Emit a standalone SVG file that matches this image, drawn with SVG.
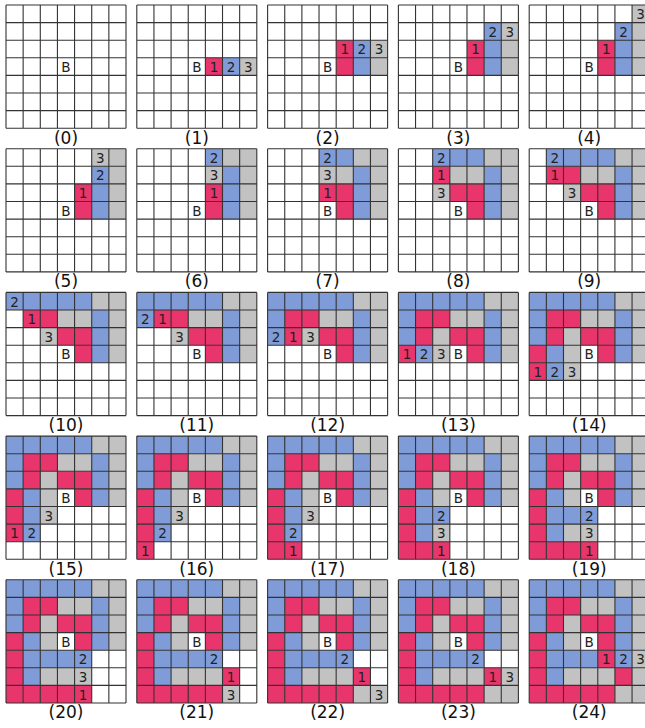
<svg xmlns="http://www.w3.org/2000/svg" xmlns:xlink="http://www.w3.org/1999/xlink" width="645" height="728" viewBox="0 0 645 728">
<style>
.r{fill:#e8356b}
.u{fill:#7f9cd8}
.g{fill:#c2c2c2}
.gl{fill:none;stroke:#333;stroke-width:1.1;vector-effect:non-scaling-stroke}
.t{font-family:"DejaVu Sans","Liberation Sans",Arial,sans-serif;font-size:13.5px;fill:#222;text-anchor:middle}
.lbl{font-family:"DejaVu Sans","Liberation Sans",Arial,sans-serif;font-size:17px;fill:#111;text-anchor:middle}
</style>
<defs>
<path id="grid" class="gl" d="M0 0V7M1 0V7M2 0V7M3 0V7M4 0V7M5 0V7M6 0V7M7 0V7M0 0H7M0 1H7M0 2H7M0 3H7M0 4H7M0 5H7M0 6H7M0 7H7"/>
<g id="s7">
<rect class="r" x="3" y="2" width="2" height="1"/><rect class="r" x="4" y="3" width="1" height="1"/>
<rect class="u" x="3" y="0" width="2" height="1"/><rect class="u" x="5" y="1" width="1" height="3"/>
<rect class="g" x="5" y="0" width="2" height="1"/><rect class="g" x="3" y="1" width="2" height="1"/><rect class="g" x="6" y="1" width="1" height="3"/>
</g>
<g id="s10"><use href="#s7"/><rect class="u" x="0" y="0" width="3" height="1"/><rect class="r" x="1" y="1" width="2" height="1"/><rect class="g" x="2" y="2" width="1" height="1"/></g>
<g id="s12"><use href="#s10"/><rect class="u" x="0" y="1" width="1" height="2"/><rect class="r" x="1" y="2" width="1" height="1"/></g>
<g id="s13"><use href="#s12"/><rect class="r" x="0" y="3" width="1" height="1"/><rect class="u" x="1" y="3" width="1" height="1"/><rect class="g" x="2" y="3" width="1" height="1"/></g>
<g id="s17"><use href="#s13"/><rect class="r" x="0" y="4" width="1" height="3"/><rect class="r" x="1" y="6" width="1" height="1"/><rect class="u" x="1" y="4" width="1" height="2"/><rect class="g" x="2" y="4" width="1" height="1"/></g>
<g id="s19"><use href="#s17"/><rect class="r" x="2" y="6" width="2" height="1"/><rect class="u" x="2" y="4" width="2" height="1"/><rect class="g" x="2" y="5" width="2" height="1"/></g>
<g id="s20"><use href="#s19"/><rect class="r" x="4" y="6" width="1" height="1"/><rect class="u" x="4" y="4" width="1" height="1"/><rect class="g" x="4" y="5" width="1" height="1"/></g>
</defs>
<rect width="645" height="728" fill="#fff"/>

<g id="panel-0" transform="translate(6 5)">
<g transform="scale(17.143 17.6)"><use href="#grid"/></g>
<text class="t" x="60" y="67">B</text>
<text class="lbl" x="60" y="138.5">(0)</text>
</g>

<g id="panel-1" transform="translate(136.8 5)">
<g transform="scale(17.143 17.6)">
<rect class="r" x="4" y="3" width="1" height="1"/><rect class="u" x="5" y="3" width="1" height="1"/><rect class="g" x="6" y="3" width="1" height="1"/>
<use href="#grid"/></g>
<text class="t" x="60" y="67">B</text><text class="t" x="77.14" y="67">1</text><text class="t" x="94.29" y="67">2</text><text class="t" x="111.43" y="67">3</text>
<text class="lbl" x="60" y="138.5">(1)</text>
</g>

<g id="panel-2" transform="translate(267.6 5)">
<g transform="scale(17.143 17.6)">
<rect class="r" x="4" y="2" width="1" height="2"/><rect class="u" x="5" y="2" width="1" height="2"/><rect class="g" x="6" y="2" width="1" height="2"/>
<use href="#grid"/></g>
<text class="t" x="60" y="67">B</text><text class="t" x="77.14" y="49.4">1</text><text class="t" x="94.29" y="49.4">2</text><text class="t" x="111.43" y="49.4">3</text>
<text class="lbl" x="60" y="138.5">(2)</text>
</g>

<g id="panel-3" transform="translate(398.4 5)">
<g transform="scale(17.143 17.6)">
<rect class="r" x="4" y="2" width="1" height="2"/><rect class="u" x="5" y="1" width="1" height="3"/><rect class="g" x="6" y="1" width="1" height="3"/>
<use href="#grid"/></g>
<text class="t" x="60" y="67">B</text><text class="t" x="77.14" y="49.4">1</text><text class="t" x="94.29" y="31.8">2</text><text class="t" x="111.43" y="31.8">3</text>
<text class="lbl" x="60" y="138.5">(3)</text>
</g>

<g id="panel-4" transform="translate(529.2 5)">
<g transform="scale(17.143 17.6)">
<rect class="r" x="4" y="2" width="1" height="2"/><rect class="u" x="5" y="1" width="1" height="3"/><rect class="g" x="6" y="0" width="1" height="4"/>
<use href="#grid"/></g>
<text class="t" x="60" y="67">B</text><text class="t" x="77.14" y="49.4">1</text><text class="t" x="94.29" y="31.8">2</text><text class="t" x="111.43" y="14.2">3</text>
<text class="lbl" x="60" y="138.5">(4)</text>
</g>

<g id="panel-5" transform="translate(6 148.7)">
<g transform="scale(17.143 17.6)">
<rect class="r" x="4" y="2" width="1" height="2"/><rect class="u" x="5" y="1" width="1" height="3"/><rect class="g" x="6" y="0" width="1" height="4"/><rect class="g" x="5" y="0" width="1" height="1"/>
<use href="#grid"/></g>
<text class="t" x="60" y="67">B</text><text class="t" x="77.14" y="49.4">1</text><text class="t" x="94.29" y="31.8">2</text><text class="t" x="94.29" y="14.2">3</text>
<text class="lbl" x="60" y="138.5">(5)</text>
</g>

<g id="panel-6" transform="translate(136.8 148.7)">
<g transform="scale(17.143 17.6)">
<rect class="r" x="4" y="2" width="1" height="2"/><rect class="u" x="5" y="1" width="1" height="3"/><rect class="g" x="6" y="0" width="1" height="4"/><rect class="g" x="5" y="0" width="1" height="1"/><rect class="u" x="4" y="0" width="1" height="1"/><rect class="g" x="4" y="1" width="1" height="1"/>
<use href="#grid"/></g>
<text class="t" x="60" y="67">B</text><text class="t" x="77.14" y="49.4">1</text><text class="t" x="77.14" y="14.2">2</text><text class="t" x="77.14" y="31.8">3</text>
<text class="lbl" x="60" y="138.5">(6)</text>
</g>

<g id="panel-7" transform="translate(267.6 148.7)">
<g transform="scale(17.143 17.6)"><use href="#s7"/><use href="#grid"/></g>
<text class="t" x="60" y="67">B</text><text class="t" x="60" y="49.4">1</text><text class="t" x="60" y="14.2">2</text><text class="t" x="60" y="31.8">3</text>
<text class="lbl" x="60" y="138.5">(7)</text>
</g>

<g id="panel-8" transform="translate(398.4 148.7)">
<g transform="scale(17.143 17.6)"><use href="#s7"/>
<rect class="u" x="2" y="0" width="1" height="1"/><rect class="r" x="2" y="1" width="1" height="1"/><rect class="g" x="2" y="2" width="1" height="1"/>
<use href="#grid"/></g>
<text class="t" x="60" y="67">B</text><text class="t" x="42.86" y="31.8">1</text><text class="t" x="42.86" y="14.2">2</text><text class="t" x="42.86" y="49.4">3</text>
<text class="lbl" x="60" y="138.5">(8)</text>
</g>

<g id="panel-9" transform="translate(529.2 148.7)">
<g transform="scale(17.143 17.6)"><use href="#s7"/>
<rect class="u" x="1" y="0" width="2" height="1"/><rect class="r" x="1" y="1" width="2" height="1"/><rect class="g" x="2" y="2" width="1" height="1"/>
<use href="#grid"/></g>
<text class="t" x="60" y="67">B</text><text class="t" x="25.71" y="31.8">1</text><text class="t" x="25.71" y="14.2">2</text><text class="t" x="42.86" y="49.4">3</text>
<text class="lbl" x="60" y="138.5">(9)</text>
</g>

<g id="panel-10" transform="translate(6 292.4)">
<g transform="scale(17.143 17.6)"><use href="#s10"/><use href="#grid"/></g>
<text class="t" x="60" y="67">B</text><text class="t" x="25.71" y="31.8">1</text><text class="t" x="8.57" y="14.2">2</text><text class="t" x="42.86" y="49.4">3</text>
<text class="lbl" x="60" y="138.5">(10)</text>
</g>

<g id="panel-11" transform="translate(136.8 292.4)">
<g transform="scale(17.143 17.6)"><use href="#s10"/><rect class="u" x="0" y="1" width="1" height="1"/><use href="#grid"/></g>
<text class="t" x="60" y="67">B</text><text class="t" x="25.71" y="31.8">1</text><text class="t" x="8.57" y="31.8">2</text><text class="t" x="42.86" y="49.4">3</text>
<text class="lbl" x="60" y="138.5">(11)</text>
</g>

<g id="panel-12" transform="translate(267.6 292.4)">
<g transform="scale(17.143 17.6)"><use href="#s12"/><use href="#grid"/></g>
<text class="t" x="60" y="67">B</text><text class="t" x="25.71" y="49.4">1</text><text class="t" x="8.57" y="49.4">2</text><text class="t" x="42.86" y="49.4">3</text>
<text class="lbl" x="60" y="138.5">(12)</text>
</g>

<g id="panel-13" transform="translate(398.4 292.4)">
<g transform="scale(17.143 17.6)"><use href="#s13"/><use href="#grid"/></g>
<text class="t" x="60" y="67">B</text><text class="t" x="8.57" y="67">1</text><text class="t" x="25.71" y="67">2</text><text class="t" x="42.86" y="67">3</text>
<text class="lbl" x="60" y="138.5">(13)</text>
</g>

<g id="panel-14" transform="translate(529.2 292.4)">
<g transform="scale(17.143 17.6)"><use href="#s13"/>
<rect class="r" x="0" y="4" width="1" height="1"/><rect class="u" x="1" y="4" width="1" height="1"/><rect class="g" x="2" y="4" width="1" height="1"/>
<use href="#grid"/></g>
<text class="t" x="60" y="67">B</text><text class="t" x="8.57" y="84.6">1</text><text class="t" x="25.71" y="84.6">2</text><text class="t" x="42.86" y="84.6">3</text>
<text class="lbl" x="60" y="138.5">(14)</text>
</g>

<g id="panel-15" transform="translate(6 436.1)">
<g transform="scale(17.143 17.6)"><use href="#s13"/>
<rect class="r" x="0" y="4" width="1" height="2"/><rect class="u" x="1" y="4" width="1" height="2"/><rect class="g" x="2" y="4" width="1" height="1"/>
<use href="#grid"/></g>
<text class="t" x="60" y="67">B</text><text class="t" x="8.57" y="102.2">1</text><text class="t" x="25.71" y="102.2">2</text><text class="t" x="42.86" y="84.6">3</text>
<text class="lbl" x="60" y="138.5">(15)</text>
</g>

<g id="panel-16" transform="translate(136.8 436.1)">
<g transform="scale(17.143 17.6)"><use href="#s13"/>
<rect class="r" x="0" y="4" width="1" height="3"/><rect class="u" x="1" y="4" width="1" height="2"/><rect class="g" x="2" y="4" width="1" height="1"/>
<use href="#grid"/></g>
<text class="t" x="60" y="67">B</text><text class="t" x="8.57" y="119.8">1</text><text class="t" x="25.71" y="102.2">2</text><text class="t" x="42.86" y="84.6">3</text>
<text class="lbl" x="60" y="138.5">(16)</text>
</g>

<g id="panel-17" transform="translate(267.6 436.1)">
<g transform="scale(17.143 17.6)"><use href="#s17"/><use href="#grid"/></g>
<text class="t" x="60" y="67">B</text><text class="t" x="25.71" y="119.8">1</text><text class="t" x="25.71" y="102.2">2</text><text class="t" x="42.86" y="84.6">3</text>
<text class="lbl" x="60" y="138.5">(17)</text>
</g>

<g id="panel-18" transform="translate(398.4 436.1)">
<g transform="scale(17.143 17.6)"><use href="#s17"/>
<rect class="r" x="2" y="6" width="1" height="1"/><rect class="u" x="2" y="4" width="1" height="1"/><rect class="g" x="2" y="5" width="1" height="1"/>
<use href="#grid"/></g>
<text class="t" x="60" y="67">B</text><text class="t" x="42.86" y="119.8">1</text><text class="t" x="42.86" y="84.6">2</text><text class="t" x="42.86" y="102.2">3</text>
<text class="lbl" x="60" y="138.5">(18)</text>
</g>

<g id="panel-19" transform="translate(529.2 436.1)">
<g transform="scale(17.143 17.6)"><use href="#s19"/><use href="#grid"/></g>
<text class="t" x="60" y="67">B</text><text class="t" x="60" y="119.8">1</text><text class="t" x="60" y="84.6">2</text><text class="t" x="60" y="102.2">3</text>
<text class="lbl" x="60" y="138.5">(19)</text>
</g>

<g id="panel-20" transform="translate(6 579.8)">
<g transform="scale(17.143 17.6)"><use href="#s20"/><use href="#grid"/></g>
<text class="t" x="60" y="67">B</text><text class="t" x="77.14" y="119.8">1</text><text class="t" x="77.14" y="84.6">2</text><text class="t" x="77.14" y="102.2">3</text>
<text class="lbl" x="60" y="138.5">(20)</text>
</g>

<g id="panel-21" transform="translate(136.8 579.8)">
<g transform="scale(17.143 17.6)"><use href="#s20"/>
<rect class="r" x="5" y="5" width="1" height="1"/><rect class="g" x="5" y="6" width="1" height="1"/>
<use href="#grid"/></g>
<text class="t" x="60" y="67">B</text><text class="t" x="94.29" y="102.2">1</text><text class="t" x="77.14" y="84.6">2</text><text class="t" x="94.29" y="119.8">3</text>
<text class="lbl" x="60" y="138.5">(21)</text>
</g>

<g id="panel-22" transform="translate(267.6 579.8)">
<g transform="scale(17.143 17.6)"><use href="#s20"/>
<rect class="r" x="5" y="5" width="1" height="1"/><rect class="g" x="5" y="6" width="2" height="1"/>
<use href="#grid"/></g>
<text class="t" x="60" y="67">B</text><text class="t" x="94.29" y="102.2">1</text><text class="t" x="77.14" y="84.6">2</text><text class="t" x="111.43" y="119.8">3</text>
<text class="lbl" x="60" y="138.5">(22)</text>
</g>

<g id="panel-23" transform="translate(398.4 579.8)">
<g transform="scale(17.143 17.6)"><use href="#s20"/>
<rect class="r" x="5" y="5" width="1" height="1"/><rect class="g" x="5" y="6" width="2" height="1"/><rect class="g" x="6" y="5" width="1" height="1"/>
<use href="#grid"/></g>
<text class="t" x="60" y="67">B</text><text class="t" x="94.29" y="102.2">1</text><text class="t" x="77.14" y="84.6">2</text><text class="t" x="111.43" y="102.2">3</text>
<text class="lbl" x="60" y="138.5">(23)</text>
</g>

<g id="panel-24" transform="translate(529.2 579.8)">
<g transform="scale(17.143 17.6)"><use href="#s20"/>
<rect class="r" x="5" y="5" width="1" height="1"/><rect class="g" x="5" y="6" width="2" height="1"/><rect class="g" x="6" y="5" width="1" height="1"/>
<rect class="r" x="4" y="4" width="1" height="1"/><rect class="u" x="5" y="4" width="1" height="1"/><rect class="g" x="6" y="4" width="1" height="1"/>
<use href="#grid"/></g>
<text class="t" x="60" y="67">B</text><text class="t" x="77.14" y="84.6">1</text><text class="t" x="94.29" y="84.6">2</text><text class="t" x="111.43" y="84.6">3</text>
<text class="lbl" x="60" y="138.5">(24)</text>
</g>
</svg>
